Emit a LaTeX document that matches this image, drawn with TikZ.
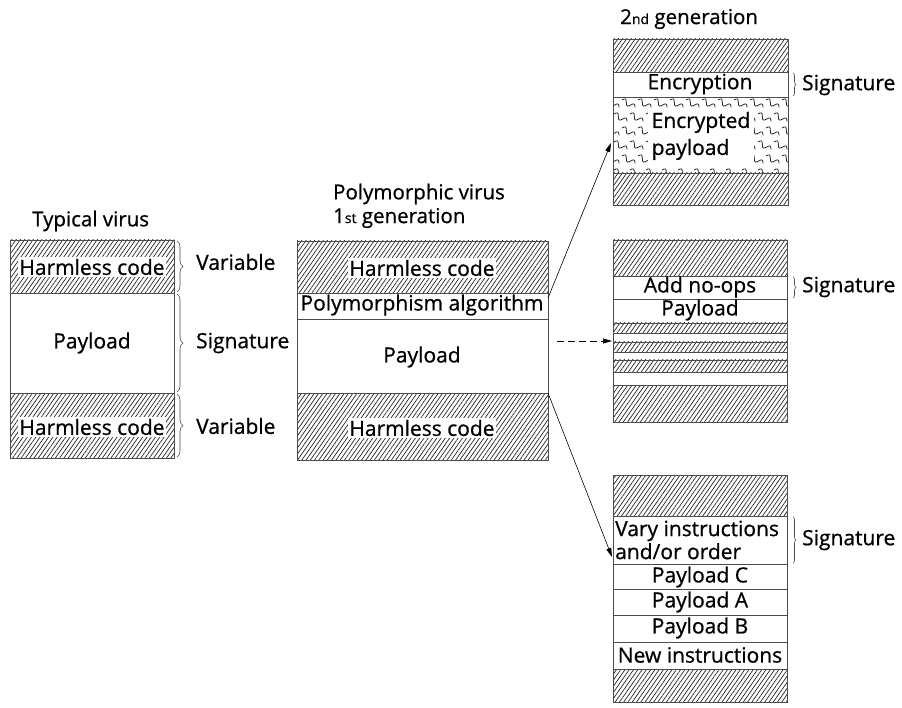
\documentclass[tikz,border=0pt]{standalone}
\usepackage{fontspec}
\setmainfont{Open Sans}[AutoFakeBold=0.7]
\usetikzlibrary{patterns.meta,decorations.pathreplacing,arrows.meta}
\begin{document}
\begin{tikzpicture}[x=1pt,y=-1pt,
  hatch/.style={pattern={Lines[angle=55,distance=3.5pt,line width=0.7pt]},pattern color=black!85},
  edge/.style={draw=black!70,line width=0.8pt},
  lbl/.style={font=\fontsize{21}{23}\selectfont\bfseries,inner sep=1pt},
  hlbl/.style={lbl,fill=white,inner sep=1.5pt},
  ttl/.style={font=\fontsize{20.5}{23}\selectfont\bfseries,inner sep=0pt,anchor=west},
  brc/.style={decorate,decoration={brace,amplitude=6pt},draw=black!70,line width=0.6pt},
  sbrc/.style={decorate,decoration={brace,amplitude=3pt},draw=black!70,line width=0.6pt},
  squig/.style={line width=0.8pt,draw=black!85},
  arr/.style={-{Triangle[length=9pt,width=5pt]},line width=0.6pt}
]
\useasboundingbox (0,0) rectangle (902,708);
\fill[white] (0,0) rectangle (902,708);

% ---------- Typical virus ----------
\node[ttl] (t0) at (32,221) {Typical virus};
\fill[hatch] (10,240) rectangle (174,293);
\fill[hatch] (10,393) rectangle (174,458);
\draw[edge] (10,240) rectangle (174,458);
\draw[edge] (10,293) -- (174,293) (10,393) -- (174,393);
\node[hlbl] (a1) at (92,267) {Harmless code};
\node[lbl]  (a2) at (92,343) {Payload};
\node[hlbl] (a3) at (92,427) {Harmless code};
\draw[brc] (177,241) -- (177,292);
\draw[brc] (177,294) -- (177,392);
\draw[brc] (177,394) -- (177,457);
\node[lbl,anchor=west] (v1) at (195,262) {Variable};
\node[lbl,anchor=west] (s1) at (195,343) {Signature};
\node[lbl,anchor=west] (v2) at (195,426) {Variable};

% ---------- Polymorphic virus ----------
\node[ttl] (t1) at (333,194) {Polymorphic virus};
\node[ttl] (t2) at (333,218) {1{\fontsize{14}{15}\selectfont st} generation};
\fill[hatch] (297,241) rectangle (548,293);
\fill[hatch] (297,393) rectangle (548,460);
\draw[edge] (297,241) rectangle (548,460);
\draw[edge] (297,293) -- (548,293) (297,319) -- (548,319) (297,393) -- (548,393);
\node[hlbl] (b1) at (422,268) {Harmless code};
\node[lbl]  (b2) at (422,305) {Polymorphism algorithm};
\node[lbl]  (b3) at (422,357) {Payload};
\node[hlbl] (b4) at (422,428) {Harmless code};

% ---------- 2nd generation: encryption ----------
\node[ttl] (t3) at (620,19) {2{\fontsize{14}{15}\selectfont nd} generation};
\fill[hatch] (613,39) rectangle (788,72);
\fill[hatch] (613,173) rectangle (788,205);
\begin{scope}
  \clip (613,97) rectangle (788,173);
  \foreach \row in {0,...,5} {
    \foreach \col in {0,...,11} {
      \pgfmathsetmacro{\xx}{606+\col*16+mod(\row,2)*8}
      \pgfmathsetmacro{\yy}{100+\row*14}
      \draw[squig,shift={(\xx,\yy)},rotate=-30]
        (0,0) sin (2.5,-2.6) cos (5,0) sin (7.5,2.6) cos (10,0) sin (12.5,-2.6) cos (15,0);
    }
  }
\end{scope}
\draw[edge] (613,39) rectangle (788,205);
\draw[edge] (613,72) -- (788,72) (613,97) -- (788,97) (613,173) -- (788,173);
\node[lbl] (c1) at (700,84) {Encryption};
\node[lbl,fill=white,align=left,inner sep=4pt,font=\fontsize{21}{27}\selectfont\bfseries] (c2) at (701,136) {Encrypted\\payload};
\draw[sbrc] (793,73) -- (793,96);
\node[lbl,anchor=west] (s2) at (801,85) {Signature};

% ---------- 2nd generation: no-ops ----------
\fill[hatch] (613,240) rectangle (787,276);
\fill[hatch] (613,323) rectangle (787,333);
\fill[hatch] (613,342) rectangle (787,352);
\fill[hatch] (613,360) rectangle (787,372);
\fill[hatch] (613,385) rectangle (787,422);
\draw[edge] (613,240) rectangle (787,422);
\foreach \yy in {276,299,323,333,342,352,360,372,385}
  \draw[edge] (613,\yy) -- (787,\yy);
\node[lbl] (d1) at (700,287) {Add no-ops};
\node[lbl] (d2) at (700,310) {Payload};
\draw[sbrc] (793,277) -- (793,298);
\node[lbl,anchor=west] (s3) at (801,287) {Signature};

% ---------- 2nd generation: vary instructions ----------
\fill[hatch] (613,475) rectangle (787,516);
\fill[hatch] (613,669) rectangle (787,702);
\draw[edge] (613,475) rectangle (787,702);
\foreach \yy in {516,564,589,615,642,669}
  \draw[edge] (613,\yy) -- (787,\yy);
\node[lbl,align=left,anchor=west] (e1) at (614,540) {Vary instructions\\and/or order};
\node[lbl] (e2) at (700,577) {Payload C};
\node[lbl] (e3) at (700,602) {Payload A};
\node[lbl] (e4) at (700,628) {Payload B};
\node[lbl] (e5) at (700,655) {New instructions};
\draw[sbrc] (793,517) -- (793,563);
\node[lbl,anchor=west] (s4) at (801,540) {Signature};

% ---------- arrows ----------
\coordinate (p1) at (548,298);
\coordinate (q1) at (611,143);
\coordinate (p2) at (557,341);
\coordinate (q2) at (612,341);
\coordinate (p3) at (548,393);
\coordinate (q3) at (612,557);
\draw[arr] (p1) -- (q1);
\draw[arr,dash pattern=on 7pt off 4pt] (p2) -- (q2);
\draw[arr] (p3) -- (q3);
\end{tikzpicture}
\end{document}
